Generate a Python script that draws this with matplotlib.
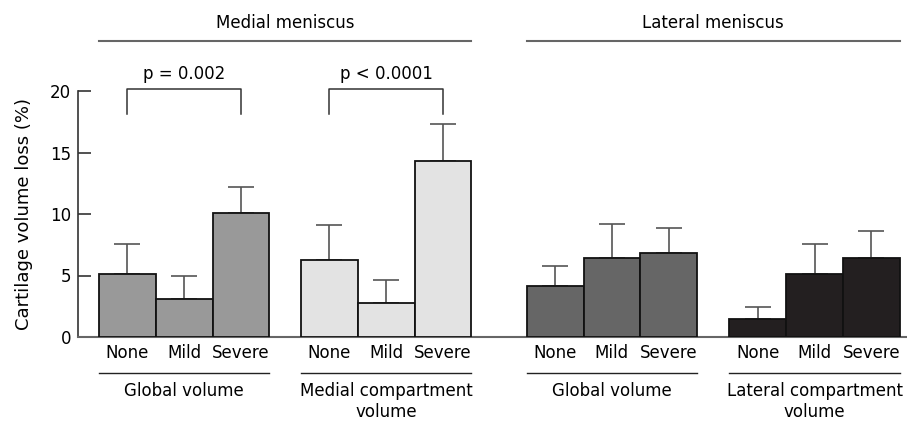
import matplotlib
matplotlib.use("Agg")
import matplotlib.pyplot as plt
import numpy as np

plt.rcParams['font.family'] = ['DejaVu Sans']

categories = ["None", "Mild", "Severe"]
group_labels = ["Global volume", "Medial compartment\nvolume", "Global volume", "Lateral compartment\nvolume"]
header_labels = ["Medial meniscus", "Lateral meniscus"]

medial_global = [5.1, 3.1, 10.1]
medial_global_err = [2.45, 1.85, 2.07]
medial_comp = [6.3, 2.75, 14.3]
medial_comp_err = [2.8, 1.9, 3.03]
lateral_global = [4.15, 6.45, 6.8]
lateral_global_err = [1.65, 2.7, 2.06]
lateral_comp = [1.5, 5.1, 6.45]
lateral_comp_err = [0.9, 2.45, 2.15]

p_labels = ["p = 0.002", "p < 0.0001"]

series = [medial_global, medial_comp, lateral_global, lateral_comp]
errors = [medial_global_err, medial_comp_err, lateral_global_err, lateral_comp_err]
colors = ["#999999", "#e3e3e3", "#666666", "#231f20"]
group_left = [0.0, 3.556, 7.53, 11.097]

fig = plt.figure(figsize=(9.07, 4.21), dpi=100)
ax = fig.add_axes([78/907, (421-337)/421, 829/907, (337-91)/421])
ax.set_xlim(-0.37, 14.225)
ax.set_ylim(0, 20)

fs = 12
for g, (vals, errs, col, x0) in enumerate(zip(series, errors, colors, group_left)):
    xs = x0 + 0.5 + np.arange(3)
    ax.bar(xs, vals, width=1.0, color=col, edgecolor="#111111", linewidth=1.3, zorder=3)
    ax.errorbar(xs, vals, yerr=[np.zeros(3), errs], fmt="none", ecolor="#555555",
                elinewidth=1.2, capsize=9.4, capthick=1.2, zorder=2)
    for x, c in zip(xs, categories):
        ax.text(x, -1.28, c, ha="center", va="center", fontsize=fs, clip_on=False)
    ax.plot([x0, x0 + 3], [-2.91, -2.91], color="#222222", lw=1.0, clip_on=False)
    lines = group_labels[g].split("\n")
    ax.text(x0 + 1.5, -4.38, lines[0], ha="center", va="center", fontsize=fs, clip_on=False)
    if len(lines) > 1:
        ax.text(x0 + 1.5, -6.1, lines[1], ha="center", va="center", fontsize=fs, clip_on=False)

# p-value brackets
for g, lab in zip([0, 1], p_labels):
    x0 = group_left[g]
    xa, xb = x0 + 0.5, x0 + 2.5
    ax.plot([xa, xa, xb, xb], [18.15, 20.2, 20.2, 18.15], color="#333333", lw=1.1, clip_on=False)
    ax.text((xa + xb) / 2, 21.4, lab, ha="center", va="center", fontsize=fs, clip_on=False)

# headers
for (a, b), lab in zip([(0, 1), (2, 3)], header_labels):
    xa = group_left[a]
    xb = group_left[b] + 3
    ax.plot([xa, xb], [24.04, 24.04], color="#666666", lw=1.5, clip_on=False)
    ax.text((xa + xb) / 2, 25.5, lab, ha="center", va="center", fontsize=fs, clip_on=False)

for s in ["top", "right"]:
    ax.spines[s].set_visible(False)
ax.spines["left"].set_color("#333333")
ax.spines["bottom"].set_color("#666666")
ax.spines["left"].set_linewidth(1.2)
ax.spines["bottom"].set_linewidth(1.5)
ax.set_xticks([])
ax.set_yticks([0, 5, 10, 15, 20])
ax.tick_params(axis="y", direction="in", length=9.4, width=1.2, color="#333333", pad=5, labelsize=fs)
ax.set_ylabel("Cartilage volume loss (%)", fontsize=13, labelpad=12)

fig.savefig("out.png", dpi=100)
